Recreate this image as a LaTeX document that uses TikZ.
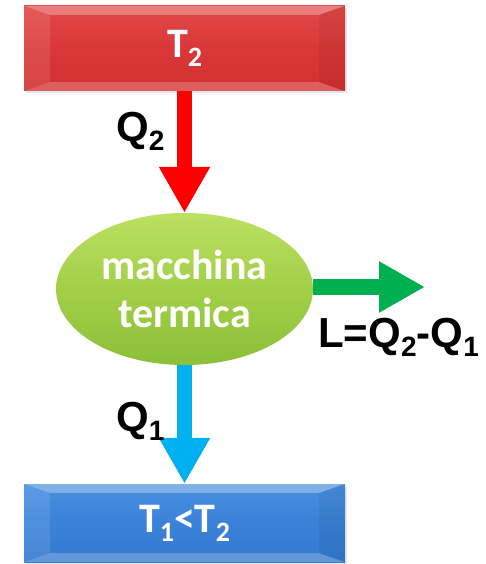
\documentclass[tikz,border=0pt]{standalone}
\usepackage{fontspec}
\setmainfont{Liberation Sans}
\newfontfamily\boxfont{Carlito}
\usetikzlibrary{arrows.meta,shapes.geometric,shadows}

\definecolor{hotface}{HTML}{DA3838}
\definecolor{hottop}{HTML}{E24848}
\definecolor{hotbot}{HTML}{D23030}
\definecolor{coldface}{HTML}{3A82D8}
\definecolor{coldtop}{HTML}{4A90E0}
\definecolor{coldbot}{HTML}{3479D0}
\definecolor{enginetop}{HTML}{BCE062}
\definecolor{enginemid}{HTML}{A2CF48}
\definecolor{enginebot}{HTML}{8DBF38}
\definecolor{arrowred}{HTML}{FF0000}
\definecolor{arrowgreen}{HTML}{00B050}
\definecolor{arrowblue}{HTML}{00B0F0}

% subscript lowered below the baseline
\newcommand\lowidx[1]{\raisebox{-9pt}{\fontsize{28}{28}\selectfont #1}}

% soft bevel on the four sides of a rectangular node
\newcommand\bevelbox[1]{%
  \fill[white,opacity=0.30] (#1.north west) -- (#1.north east)
    -- ([shift={(-26,9)}]#1.north east) -- ([shift={(26,9)}]#1.north west) -- cycle;
  \fill[white,opacity=0.22] (#1.south west) -- (#1.south east)
    -- ([shift={(-26,-9)}]#1.south east) -- ([shift={(26,-9)}]#1.south west) -- cycle;
  \fill[white,opacity=0.10] (#1.north west) -- ([shift={(26,9)}]#1.north west)
    -- ([shift={(26,-9)}]#1.south west) -- (#1.south west) -- cycle;
  \fill[black,opacity=0.06] (#1.north east) -- ([shift={(-26,9)}]#1.north east)
    -- ([shift={(-26,-9)}]#1.south east) -- (#1.south east) -- cycle;
}

\tikzset{
  reservoir/.style={rectangle, minimum width=321pt, inner sep=0pt,
    text=white, font=\boxfont\bfseries\fontsize{42}{48}\selectfont,
    drop shadow={shadow xshift=1.5pt, shadow yshift=-2.5pt, opacity=0.18, fill=black!50}},
  engine/.style={ellipse, minimum width=257pt, minimum height=152pt, inner sep=0pt,
    top color=enginetop, bottom color=enginebot, middle color=enginemid,
    text=white, align=center, font=\boxfont\bfseries\fontsize{42}{48}\selectfont},
  flow/.style={line width=15.5pt, -{Triangle[width=48pt,length=46pt]}},
  qlabel/.style={anchor=base west, inner sep=0pt, font=\bfseries\fontsize{42}{48}\selectfont}
}

\begin{document}
\begin{tikzpicture}[x=1pt,y=-1pt]
  \useasboundingbox (0,0) rectangle (485,564);

  % hot and cold reservoirs
  \node[reservoir, minimum height=85pt, top color=hottop, bottom color=hotbot,
        middle color=hotface] (hot) at (184.5,48.5) {T\lowidx{2}};
  \bevelbox{hot}

  \node[reservoir, minimum height=78pt, top color=coldtop, bottom color=coldbot,
        middle color=coldface] (cold) at (184.5,523) {T\lowidx{1}<T\lowidx{2}};
  \bevelbox{cold}

  % heat engine
  \node[engine] (eng) at (184.5,289) {macchina\\termica};

  % heat and work flows
  \coordinate (worktip) at (425,287);
  \draw[flow, arrowred] (hot.south) -- (eng.north);
  \draw[flow, arrowblue] (eng.south) -- (cold.north);
  \draw[flow, arrowgreen] (eng.east |- worktip) -- (worktip);

  % labels
  \node[qlabel] (q2) at (116,142) {Q\lowidx{2}};
  \node[qlabel] (q1) at (116,431) {Q\lowidx{1}};
  \node[qlabel] (work) at (318,347) {L=Q\lowidx{2}-Q\lowidx{1}};
\end{tikzpicture}
\end{document}
